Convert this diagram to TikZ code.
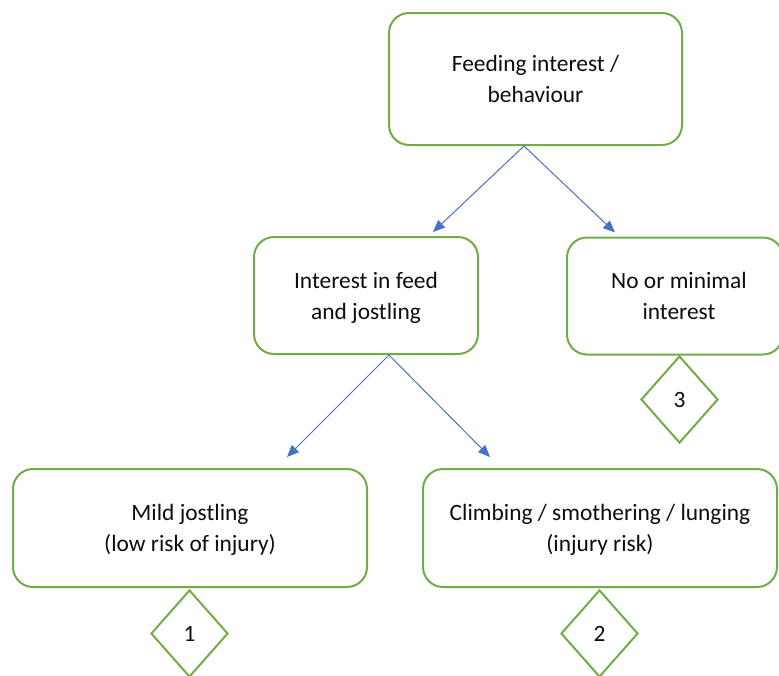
\documentclass[tikz,border=0pt]{standalone}
\usepackage{fontspec}
\setmainfont{Carlito}
\usetikzlibrary{shapes.geometric,arrows.meta}
\definecolor{boxgreen}{HTML}{70AD47}
\definecolor{linkblue}{HTML}{4472C4}
\definecolor{txt}{HTML}{0D0D0D}
\tikzset{
  stage/.style={draw=boxgreen, line width=2pt, rounded corners=20pt, fill=white,
    align=center, text=txt, font=\fontsize{23.4}{31}\selectfont, inner sep=0pt,
    text depth=0pt},
  score/.style={draw=boxgreen, line width=2pt, shape=diamond, aspect=0.885,
    minimum width=77pt, minimum height=87pt, inner sep=0pt, text=txt,
    font=\fontsize{23.4}{31}\selectfont},
  link/.style={draw=linkblue, line width=1pt, -{Triangle[length=12pt,width=10pt]}}
}
\begin{document}
\begin{tikzpicture}[x=1pt,y=-1pt]
  \useasboundingbox (0,0) rectangle (779,675);
  \clip (0,0) rectangle (779,675);
  % upper level
  \node[stage, minimum width=293pt, minimum height=132pt] (feed) at (535.5,79) {Feeding interest /\\behaviour};
  % middle level
  \node[stage, minimum width=224pt, minimum height=117pt] (jostle) at (366,295.5) {Interest in feed\\and jostling};
  \node[stage, minimum width=216pt, minimum height=117pt] (none) at (675,296) {\hspace*{8pt}No or minimal\\\hspace*{8pt}interest};
  % lower level
  \node[stage, minimum width=354pt, minimum height=118pt] (mild) at (190,528) {Mild jostling\\(low risk of injury)};
  \node[stage, minimum width=354pt, minimum height=118pt] (climb) at (600,528) {Climbing / smothering / lunging\\(injury risk)};
  % scores
  \node[score] (s3) at (679.5,399.5) {3};
  \node[score] (s1) at (189.5,633.5) {1};
  \node[score] (s2) at (599.5,633.5) {2};
  % connectors
  \draw[link] ([xshift=-11.5pt]feed.south) -- ([xshift=67pt,yshift=4pt]jostle.north);
  \draw[link] ([xshift=-11.5pt]feed.south) -- ([xshift=-60pt,yshift=4pt]none.north);
  \draw[link] ([xshift=23pt]jostle.south) -- ([xshift=97pt,yshift=11pt]mild.north);
  \draw[link] ([xshift=23pt]jostle.south) -- ([xshift=-110pt,yshift=11pt]climb.north);
\end{tikzpicture}
\end{document}
